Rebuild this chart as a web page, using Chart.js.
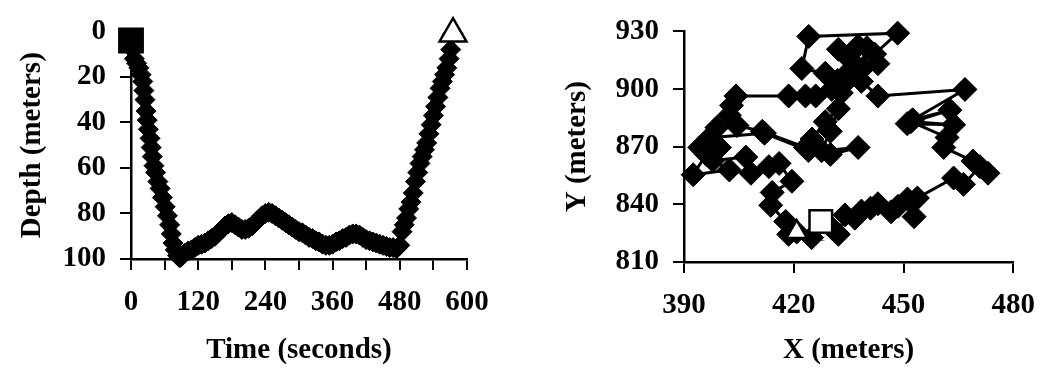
<!DOCTYPE html>
<html>
<head>
<meta charset="utf-8">
<script src="https://cdn.jsdelivr.net/npm/chart.js@4.4.0/dist/chart.umd.min.js"></script>
<style>
  body { margin: 0; background: #fff; }
  canvas { position: absolute; top: 0; }
  #depthChart { left: 0; }
  #trackChart { left: 525px; }
</style>
</head>
<body>
<canvas id="depthChart" width="525" height="385"></canvas>
<canvas id="trackChart" width="525" height="385"></canvas>
<script>
// dive profile: time (s) vs depth (m)
const timeSec = [
  0, 3, 6, 10, 14, 18, 21, 23, 25, 27, 29, 31, 34, 36, 38, 41, 44, 48, 52, 56, 61, 65, 69, 72, 75, 79, 83, 87,
  90, 96, 102, 108, 114, 120, 126, 132, 138, 144, 150, 156, 162, 168, 174, 180, 186, 192, 198, 204, 210, 216,
  222, 228, 234, 240, 246, 252, 258, 264, 270, 276, 282, 288, 294, 300, 306, 312, 318, 324, 330, 336, 342, 348,
  354, 360, 366, 372, 378, 384, 390, 396, 402, 408, 414, 420, 426, 432, 438, 444, 450, 456, 462, 468, 474, 480,
  484, 488, 492, 496, 500, 504, 508, 512, 516, 520, 524, 528, 532, 536, 540, 544, 548, 552, 556, 560, 564, 568, 571, 575
];
const depthM = [
  4, 8, 12, 14, 16, 19, 22, 26, 30, 35, 39, 43, 47, 51, 55, 59, 62, 66, 69, 73, 77, 81, 85, 89, 93, 96, 98.5, 99.5,
  99, 97.5, 96.5, 96, 95, 94, 93.5, 93, 92, 91, 90, 88.5, 87, 85.5, 84.5, 84, 85, 86, 87, 87, 86.5, 85.5,
  84, 82.5, 81, 80, 79.5, 80, 81, 82, 83, 84, 85, 86, 87, 88, 88.5, 89.5, 90.5, 91, 92, 92.5, 93.5, 94,
  94, 93.5, 92.5, 92, 91, 90.5, 89.5, 89, 89, 89.5, 90.5, 91.5, 92, 92.5, 93, 93.5, 94, 94.5, 95, 95, 95.5, 94,
  88, 85, 82, 78, 75, 71, 66, 62, 58, 55, 52, 49, 45, 41, 37, 33, 29, 25, 22, 19, 16, 12, 8, 1
];
const timeTicks = [0, 120, 240, 360, 480, 600];

// horizontal track: X (m) vs Y (m)
const trackX = [
  427.4, 430.5, 432.2, 434.0, 436.7, 438.5, 441.0, 443.0, 446.6, 448.5, 451.1, 452.9, 453.8, 463.7, 466.4, 470.9,
  473.1, 469.0, 461.0, 461.9, 452.0, 463.7, 451.0, 462.7, 452.5, 466.8, 443.0, 438.5, 434.0, 436.0, 430.4, 428.6,
  422.2, 424.1, 448.4, 442.1, 440.0, 437.6, 432.2, 435.0, 443.0, 439.0, 435.0, 432.0, 433.0, 426.0, 423.2, 418.6,
  404.2, 403.0, 402.4, 399.0, 404.5, 411.4, 423.2, 425.0, 428.6, 432.2, 430.0, 427.6, 437.6, 430.0, 424.0, 412.0,
  397.0, 394.3, 399.7, 396.1, 392.5, 402.4, 397.9, 406.9, 408.3, 413.2, 416.0, 419.5, 414.1, 413.7, 417.8, 418.6,
  424.9, 420.8
];
const trackY = [
  831.1, 827.5, 824.4, 834.5, 832.8, 836.5, 838.0, 840.3, 836.1, 839.0, 842.8, 833.6, 843.3, 853.7, 850.4, 859.6,
  856.2, 862.5, 869.6, 874.8, 883.0, 881.4, 882.0, 889.0, 884.0, 899.8, 896.4, 904.0, 903.1, 907.5, 899.8, 908.2,
  910.7, 927.4, 929.1, 918.2, 921.5, 922.4, 920.7, 916.0, 913.2, 911.0, 909.0, 904.5, 898.0, 896.4, 896.4, 896.4,
  896.4, 891.5, 886.4, 880.0, 881.0, 878.0, 869.6, 874.0, 883.0, 889.7, 878.0, 867.9, 869.6, 866.0, 868.0, 877.0,
  874.7, 869.6, 869.6, 866.0, 855.4, 857.9, 862.8, 864.6, 856.2, 859.6, 861.3, 852.0, 846.2, 839.5, 831.1, 824.4,
  822.7, 825.6
];
const xTicks = [390, 420, 450, 480];
const yTicks = [810, 840, 870, 900, 930];

Chart.defaults.font.family = '"Liberation Serif", "Times New Roman", serif';
Chart.defaults.font.size = 29;
Chart.defaults.font.weight = 'bold';
Chart.defaults.color = '#000';

function toPoints(xs, ys) {
  let pts = [];
  for (let i = 0; i < xs.length; i += 1) {
    pts.push({ x: xs[i], y: ys[i] });
  }
  return pts;
}

function axis(min, max, step, title, fit, extra) {
  return Object.assign({
    type: 'linear',
    min: min,
    max: max,
    border: { display: true, color: '#000', width: 2.5 },
    grid: { drawOnChartArea: false, drawTicks: true, tickLength: 11, color: '#000', lineWidth: 2 },
    ticks: { stepSize: step, padding: 14 },
    title: { display: true, text: title },
    afterFit: fit
  }, extra);
}

// left: depth profile
const profile = toPoints(timeSec, depthM);
new Chart(document.getElementById('depthChart'), {
  type: 'scatter',
  data: {
    datasets: [{
      data: [profile[0], profile[profile.length - 1]],
      pointStyle: ['rect', 'triangle'],
      pointRadius: [16.5, 15.5],
      pointBackgroundColor: ['#000', '#fff'],
      pointBorderColor: '#000',
      pointBorderWidth: 2.5,
      showLine: false,
      clip: false
    }, {
      data: profile,
      showLine: true,
      borderColor: '#000',
      borderWidth: 3,
      pointStyle: 'rectRot',
      pointRadius: 10,
      pointBackgroundColor: '#000',
      pointBorderColor: '#000',
      pointBorderWidth: 1,
      clip: false
    }]
  },
  options: {
    responsive: false,
    animation: false,
    layout: { padding: { top: 24, right: 58, left: 0, bottom: 0 } },
    plugins: { legend: { display: false }, tooltip: { enabled: false } },
    scales: {
      x: axis(0, 600, 60, 'Time (seconds)', s => { s.height = 126; }, {
        ticks: {
          stepSize: 60, padding: 15, maxRotation: 0, autoSkip: false,
          callback: v => timeTicks.includes(v) ? v : ''
        },
        title: { display: true, text: 'Time (seconds)', padding: { top: 0, bottom: 17 } }
      }),
      y: axis(0, 100, 20, 'Depth (meters)', s => { s.width = 131; }, {
        reverse: true,
        title: { display: true, text: 'Depth (meters)', padding: { top: 15, bottom: 0 } }
      })
    }
  }
});

// right: track in the horizontal plane
const track = toPoints(trackX, trackY);
new Chart(document.getElementById('trackChart'), {
  type: 'scatter',
  data: {
    datasets: [{
      data: [track[0], track[track.length - 1]],
      pointStyle: ['rect', 'triangle'],
      pointRadius: [16, 12],
      pointBackgroundColor: '#fff',
      pointBorderColor: '#000',
      pointBorderWidth: 2.5,
      showLine: false,
      clip: false
    }, {
      data: track,
      showLine: true,
      borderColor: '#000',
      borderWidth: 3,
      pointStyle: 'rectRot',
      pointRadius: 12,
      pointBackgroundColor: '#000',
      pointBorderColor: '#000',
      pointBorderWidth: 1,
      clip: false
    }]
  },
  options: {
    responsive: false,
    animation: false,
    layout: { padding: { top: 23, right: 33, left: 0, bottom: 0 } },
    plugins: { legend: { display: false }, tooltip: { enabled: false } },
    scales: {
      x: axis(xTicks[0], xTicks[xTicks.length - 1], 30, 'X (meters)', s => { s.height = 123; }, {
        ticks: { stepSize: 30, padding: 15, maxRotation: 0 },
        title: { display: true, text: 'X (meters)', padding: { top: 0, bottom: 17 } }
      }),
      y: axis(yTicks[0], yTicks[yTicks.length - 1], 30, 'Y (meters)', s => { s.width = 159; }, {
        title: { display: true, text: 'Y (meters)', padding: { top: 35, bottom: 0 } }
      })
    }
  }
});
</script>
</body>
</html>
